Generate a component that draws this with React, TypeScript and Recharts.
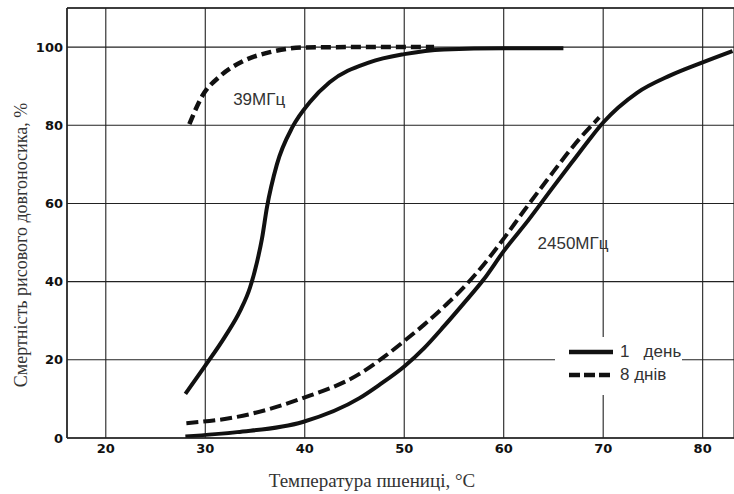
import React from 'react';
import {
  LineChart,
  Line,
  XAxis,
  YAxis,
  CartesianGrid,
  ReferenceLine,
  ReferenceDot,
  Legend,
} from 'recharts';

// temperature (°C) / mortality (%)
const mhz39Day1 = [
  { t: 28, m: 11.3 }, { t: 30, m: 18.5 }, { t: 32, m: 26 }, { t: 33.5, m: 32.5 },
  { t: 34.5, m: 38.5 }, { t: 35.2, m: 45 }, { t: 35.7, m: 51 }, { t: 36.2, m: 59 },
  { t: 37.2, m: 70 }, { t: 38.8, m: 79.7 }, { t: 40.5, m: 85.9 }, { t: 42.5, m: 91 },
  { t: 46.5, m: 96.1 }, { t: 50, m: 98.2 }, { t: 54, m: 99.4 }, { t: 60, m: 99.7 },
  { t: 66, m: 99.7 },
];

const mhz39Day8 = [
  { t: 28.4, m: 80.3 }, { t: 29.7, m: 87.5 }, { t: 31.5, m: 92.6 }, { t: 33.8, m: 96.4 },
  { t: 36.5, m: 98.7 }, { t: 39.8, m: 99.9 }, { t: 45, m: 100 }, { t: 53, m: 100 },
];

const mhz2450Day1 = [
  { t: 28, m: 0.4 }, { t: 33.2, m: 1.5 }, { t: 39.8, m: 4.1 }, { t: 45.5, m: 10.2 },
  { t: 47.5, m: 13.6 }, { t: 50, m: 18.3 }, { t: 52, m: 23 }, { t: 54, m: 28.6 },
  { t: 56, m: 34.5 }, { t: 58, m: 40.6 }, { t: 60, m: 47.8 }, { t: 62.5, m: 55.8 },
  { t: 65, m: 64.3 }, { t: 67, m: 71 }, { t: 68.5, m: 76 }, { t: 70, m: 80.7 },
  { t: 73.4, m: 88.3 }, { t: 76.7, m: 92.7 }, { t: 80, m: 96.1 }, { t: 83, m: 99 },
];

const mhz2450Day8 = [
  { t: 28.1, m: 3.8 }, { t: 33.2, m: 5.4 }, { t: 39.8, m: 10.2 }, { t: 45.5, m: 16.4 },
  { t: 48, m: 20.8 }, { t: 50, m: 24.8 }, { t: 52, m: 29 }, { t: 54, m: 33.6 },
  { t: 56, m: 38.6 }, { t: 58, m: 44.4 }, { t: 60, m: 51 }, { t: 62, m: 58 },
  { t: 64.3, m: 65.8 }, { t: 67.6, m: 76.5 }, { t: 69.6, m: 82 },
];

const xTicks = [20, 30, 40, 50, 60, 70, 80];
const yTicks = [0, 20, 40, 60, 80, 100];

const ink = '#111';

const LegendBox = ({ payload }: any) => (
  <div style={{ background: '#fff', width: 127, height: 58, position: 'relative' }}>
    {(payload || [])
      .filter((p: any) => p.type !== 'none' && p.value !== 'm')
      .map((p: any, i: number) => (
        <div
          key={p.value}
          style={{ position: 'absolute', left: 13, top: 4 + i * 23, height: 22, display: 'flex', alignItems: 'center' }}
        >
          <svg width={46} height={8}>
            <line
              x1={1} y1={4} x2={45} y2={4}
              stroke={ink} strokeWidth={4.5}
              strokeDasharray={p.payload.strokeDasharray ? '11 4' : undefined}
            />
          </svg>
          <span
            style={{
              marginLeft: 6, fontFamily: '"Liberation Sans", Arial, sans-serif',
              fontSize: 17, color: '#333', whiteSpace: 'pre',
            }}
          >
            {p.value}
          </span>
        </div>
      ))}
  </div>
);

const XTitle = () => (
  <text x={372} y={487} textAnchor="middle" fontFamily='"Liberation Serif", serif' fontSize={19} fill="#333">
    Температура пшениці, °C
  </text>
);

const YTitle = () => (
  <text
    x={21} y={245} textAnchor="middle" dominantBaseline="central"
    transform="rotate(-90, 21, 245)"
    fontFamily='"Liberation Serif", serif' fontSize={18} fill="#333"
  >
    Смертність рисового довгоносика, %
  </text>
);

const tickStyle = { fontFamily: '"DejaVu Sans", sans-serif', fontWeight: 700, fontSize: 13, fill: ink };

export default function App() {
  return (
    <div style={{ position: 'absolute', left: 0, top: 0, background: '#fff' }}>
      <LineChart width={734} height={494} margin={{ top: 8, right: 0, left: 0, bottom: 0 }}>
        <CartesianGrid stroke="#222" strokeWidth={1.1} />
        <XAxis
          dataKey="t" type="number" domain={[16.1, 83.15]} ticks={xTicks}
          allowDataOverflow height={56} tickLine={false} tickSize={0} tickMargin={6}
          axisLine={{ stroke: '#222', strokeWidth: 1.5 }} tick={tickStyle}
          label={{ content: () => <XTitle /> }}
        />
        <YAxis
          dataKey="m" type="number" domain={[0, 110]} ticks={yTicks}
          allowDataOverflow width={67} tickLine={false} tickSize={0} tickMargin={4}
          axisLine={{ stroke: '#222', strokeWidth: 1.5 }} tick={tickStyle}
          label={{ content: () => <YTitle /> }}
        />
        <ReferenceLine y={110} stroke="#222" strokeWidth={1.5} />
        <Line data={mhz39Day1} dataKey="m" type="monotone" stroke={ink} strokeWidth={4}
          dot={false} legendType="none" isAnimationActive={false} />
        <Line data={mhz39Day8} dataKey="m" type="monotone" stroke={ink} strokeWidth={4.5}
          strokeDasharray="10 5" dot={false} legendType="none" isAnimationActive={false} />
        <Line data={mhz2450Day1} dataKey="m" name="1   день" type="monotone" stroke={ink}
          strokeWidth={4} dot={false} isAnimationActive={false} />
        <Line data={mhz2450Day8} dataKey="m" name="8 днів" type="monotone" stroke={ink}
          strokeWidth={4} strokeDasharray="12 5" dot={false} isAnimationActive={false} />
        <ReferenceDot x={32.8} y={86.7} r={0} stroke="none"
          label={{ value: '39МГц', position: 'right', offset: 0, fill: '#333', fontSize: 17,
            fontFamily: '"Liberation Sans", Arial, sans-serif' }} />
        <ReferenceDot x={63.4} y={49.8} r={0} stroke="none"
          label={{ value: '2450МГц', position: 'right', offset: 0, fill: '#333', fontSize: 17,
            fontFamily: '"Liberation Sans", Arial, sans-serif' }} />
        <Legend
          layout="horizontal" verticalAlign="middle" align="center"
          content={<LegendBox />}
          wrapperStyle={{ left: 555, top: 337, width: 127, height: 58 }}
        />
      </LineChart>
    </div>
  );
}
